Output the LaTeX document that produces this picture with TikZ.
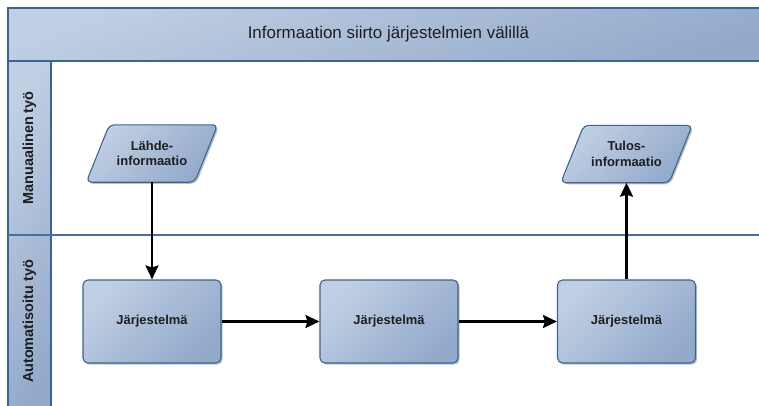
\documentclass[tikz,border=0pt]{standalone}
\usepackage{fontspec}
\setmainfont{Liberation Sans}
\usetikzlibrary{arrows.meta,shadows}

\definecolor{shadelight}{HTML}{C0CFE3}
\definecolor{shadedark}{HTML}{93AACB}
\definecolor{edgeblue}{HTML}{3A6496}
\definecolor{laneline}{HTML}{4470A4}
\definecolor{inktext}{HTML}{1E1E1E}

\tikzset{
  shapefill/.style={top color=shadelight, bottom color=shadedark, shading angle=45},
  shapeedge/.style={draw=edgeblue, line width=1.1bp},
  nodeshadow/.style={drop shadow={shadow xshift=1.6bp, shadow yshift=-1.6bp, opacity=.35, fill=black!70}},
  nodetext/.style={font=\fontsize{13}{15.5}\selectfont\bfseries, text=inktext, align=center},
  sysbox/.style={rectangle, rounded corners=5bp, shapefill, shapeedge, nodeshadow,
    minimum width=138bp, minimum height=83bp, inner sep=0pt, nodetext},
  % text holder of a data (input/output) symbol; the slanted outline is drawn separately
  datatext/.style={rectangle, minimum width=131bp, minimum height=57bp, inner sep=0pt, nodetext},
  dataoutline/.style={shapefill, shapeedge, nodeshadow, rounded corners=5bp},
  flow/.style={line width=2.2bp, black, -{Stealth[length=14bp, width=13bp, inset=2bp]}},
  lanelabel/.style={rotate=90, font=\fontsize{14.5}{17}\selectfont\bfseries, text=inktext},
}

% slanted outline around a data node: #1 = node name, #2 = slant offset
\newcommand\dataoutline[2]{%
  \path[dataoutline]
    ([xshift=#2]#1.north west) -- (#1.north east)
    -- ([xshift=-#2]#1.south east) -- (#1.south west) -- cycle;}

\begin{document}
\begin{tikzpicture}[x=1bp, y=-1bp]
\useasboundingbox (0,0) rectangle (759,405);
\clip (0,0) rectangle (759,405);

% pool frame: title band, lane header column and lane divider
\fill[white] (0,0) rectangle (759,405);
\shade[top color=shadelight, bottom color=shadedark, shading angle=20] (8,8) rectangle (775,61);
\shade[top color=shadelight, bottom color=shadedark, shading angle=60] (8,61) rectangle (51,420);
\draw[edgeblue, line width=1.2bp] (775,8) -- (8,8) -- (8,420);
\draw[edgeblue, line width=1.2bp] (8,61) -- (775,61);
\draw[edgeblue, line width=1.2bp] (51,61) -- (51,420);
\draw[laneline, line width=1.1bp] (8,235) -- (775,235);

\node[font=\fontsize{17}{20}\selectfont, text=inktext] (title) at (388.5,34.5) {Informaation siirto järjestelmien välillä};
\node[lanelabel] (lane1) at (29.5,148) {Manuaalinen työ};
\node[lanelabel] (lane2) at (29.5,321.5) {Automatisoitu työ};

% data symbols
\coordinate (srcpos) at (152,153.5);
\coordinate (dstpos) at (626.5,154);
\path (srcpos) node[datatext] (srcbox) {};
\path (dstpos) node[datatext] (dstbox) {};
\dataoutline{srcbox}{23bp}
\dataoutline{dstbox}{23bp}
\node[datatext] (src) at (srcpos) {Lähde-\\informaatio};
\node[datatext] (dst) at (dstpos) {Tulos-\\informaatio};

% system boxes
\node[sysbox] (s1) at (152,321.5) {Järjestelmä};
\node[sysbox] (s2) at (389,321.5) {Järjestelmä};
\node[sysbox] (s3) at (626.5,321.5) {Järjestelmä};

% connectors
\draw[flow] (src) -- (s1);
\draw[flow] (s1) -- (s2);
\draw[flow] (s2) -- (s3);
\draw[flow] (s3) -- (dst);
\end{tikzpicture}
\end{document}
